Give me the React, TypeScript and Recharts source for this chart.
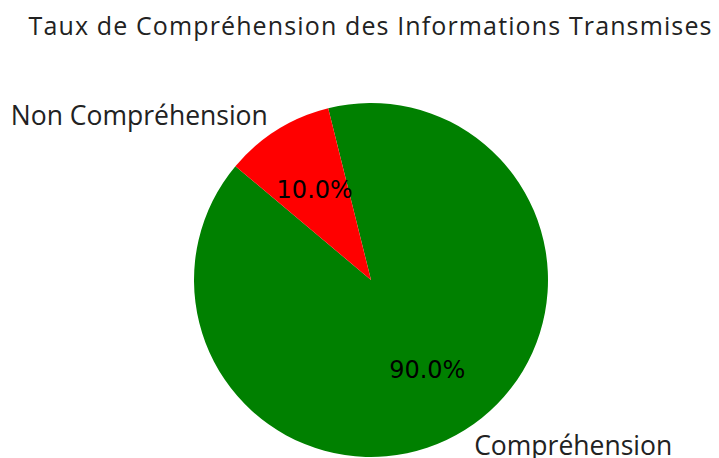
import { PieChart, Pie, Cell } from "recharts";

const labels = ["Compréhension", "Non Compréhension"];
const values = [90, 10];
const colors = ["#008000", "#ff0000"];

const data = labels.map((name, i) => ({ name, value: values[i] }));
const total = values.reduce((a, b) => a + b, 0);

const RAD = Math.PI / 180;

function renderLabel(props: any) {
    const { cx, cy, midAngle, outerRadius, index, value } = props;
    const cos = Math.cos(-midAngle * RAD);
    const sin = Math.sin(-midAngle * RAD);
    const ox = cx + outerRadius * 1.1 * cos;
    const oy = cy + outerRadius * 1.1 * sin;
    const ix = cx + outerRadius * 0.6 * cos;
    const iy = cy + outerRadius * 0.6 * sin;
    return (
        <g key={`lbl-${index}`}>
            <text
                x={ox}
                y={oy}
                textAnchor={cos >= 0 ? "start" : "end"}
                dominantBaseline="central"
                fontFamily="'Open Sans', sans-serif"
                fontSize={26.5}
                fill="#222"
            >
                {labels[index]}
            </text>
            <text
                x={ix}
                y={iy}
                textAnchor="middle"
                dominantBaseline="central"
                fontFamily="'DejaVu Sans', sans-serif"
                fontSize={24}
                fill="#000"
            >
                {((value / total) * 100).toFixed(1)}%
            </text>
        </g>
    );
}

export default function App() {
    return (
        <div style={{ position: "absolute", left: 0, top: 0, background: "#fff" }}>
            <PieChart width={719} height={458} margin={{ top: 0, right: 0, bottom: 0, left: 0 }}>
                <text
                    x={370}
                    y={25}
                    textAnchor="middle"
                    dominantBaseline="central"
                    fontFamily="'Open Sans', sans-serif"
                    fontSize={25}
                    textLength={683}
                    lengthAdjust="spacing"
                    fill="#222"
                >
                    Taux de Compréhension des Informations Transmises
                </text>
                <Pie
                    data={data}
                    dataKey="value"
                    nameKey="name"
                    cx={371}
                    cy={280}
                    outerRadius={177}
                    startAngle={140}
                    endAngle={500}
                    stroke="none"
                    label={renderLabel}
                    labelLine={false}
                    isAnimationActive={false}
                >
                    {data.map((d, i) => (
                        <Cell key={d.name} fill={colors[i]} />
                    ))}
                </Pie>
            </PieChart>
        </div>
    );
}
